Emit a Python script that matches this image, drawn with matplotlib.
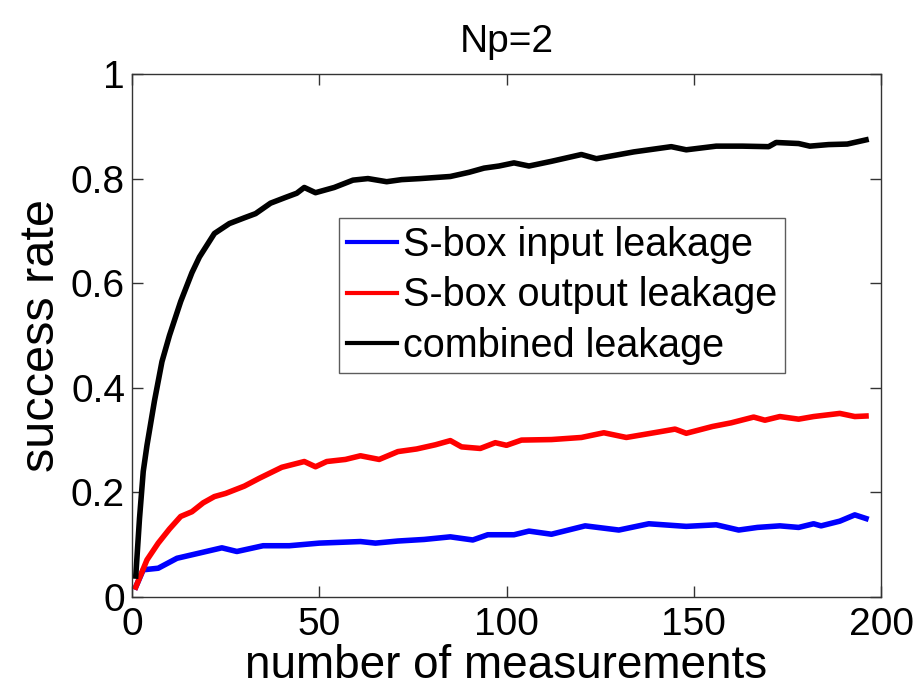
import matplotlib
matplotlib.use("Agg")
import matplotlib.pyplot as plt

# values
x_comb = [1, 2, 3, 4, 6, 8, 10, 13, 16, 18, 22, 26, 30, 33, 37, 41, 44, 46, 49,
          54, 59, 63, 68, 72, 77, 85, 90, 94, 98, 102, 106, 112, 120, 124, 134,
          144, 148, 156, 163, 170, 172, 178, 181, 186, 191, 196]
y_comb = [0.04, 0.15, 0.24, 0.29, 0.375, 0.45, 0.50, 0.565, 0.62, 0.65, 0.695,
          0.714, 0.725, 0.733, 0.753, 0.764, 0.772, 0.783, 0.773, 0.783, 0.797,
          0.800, 0.794, 0.798, 0.800, 0.804, 0.812, 0.820, 0.824, 0.830, 0.824,
          0.833, 0.846, 0.838, 0.851, 0.861, 0.855, 0.862, 0.862, 0.861, 0.869,
          0.867, 0.862, 0.865, 0.866, 0.874]

x_out = [1, 4, 7, 10, 13, 16, 19, 22, 25, 30, 34, 40, 46, 49, 52, 57, 61, 66,
         71, 76, 81, 85, 88, 93, 97, 100, 104, 112, 120, 126, 132, 141, 145,
         148, 155, 160, 166, 169, 173, 178, 182, 189, 193, 196]
y_out = [0.019, 0.071, 0.103, 0.13, 0.154, 0.163, 0.18, 0.192, 0.198, 0.212,
         0.227, 0.248, 0.259, 0.249, 0.259, 0.263, 0.270, 0.263, 0.278, 0.283,
         0.291, 0.299, 0.287, 0.284, 0.295, 0.290, 0.300, 0.301, 0.305, 0.314,
         0.305, 0.316, 0.321, 0.313, 0.326, 0.333, 0.344, 0.338, 0.345, 0.340,
         0.345, 0.351, 0.345, 0.346]

x_in = [1, 3, 7, 12, 18, 24, 28, 35, 42, 50, 61, 65, 71, 78, 85, 91, 95, 102,
        106, 112, 121, 130, 138, 148, 156, 162, 167, 173, 178, 182, 184, 189,
        193, 196]
y_in = [0.019, 0.052, 0.055, 0.074, 0.084, 0.094, 0.087, 0.098, 0.098, 0.103,
        0.106, 0.103, 0.107, 0.110, 0.115, 0.109, 0.119, 0.119, 0.126, 0.120,
        0.136, 0.128, 0.140, 0.135, 0.138, 0.128, 0.133, 0.136, 0.133, 0.140,
        0.136, 0.145, 0.157, 0.150]

labels = ["S-box input leakage", "S-box output leakage", "combined leakage"]

plt.rcParams["font.family"] = ["Liberation Sans", "DejaVu Sans"]

fig = plt.figure(figsize=(9.18, 6.9), dpi=100)
ax = fig.add_axes([0.1438, 0.1348, 0.8159, 0.758])

lw = 4
ax.plot(x_in, y_in, color="#0000ff", lw=lw, label=labels[0])
ax.plot(x_out, y_out, color="#ff0000", lw=lw, label=labels[1])
ax.plot(x_comb, y_comb, color="black", lw=lw, label=labels[2])

ax.set_xlim(0, 200)
ax.set_ylim(0, 1)
ax.set_xticks([0, 50, 100, 150, 200])
ax.set_yticks([0, 0.2, 0.4, 0.6, 0.8, 1])
ax.set_yticklabels(["0", "0.2", "0.4", "0.6", "0.8", "1"])
ax.tick_params(direction="in", length=8, width=1, top=True, right=True,
               colors="#333333", labelcolor="black", labelsize=28)
ax.tick_params(axis="y", pad=5)
ax.tick_params(axis="x", pad=7)
for sp in ax.spines.values():
    sp.set_color("#333333")
    sp.set_linewidth(1)

ax.set_xlabel("number of measurements", fontsize=33, labelpad=1)
ax.set_ylabel("success rate", fontsize=35, labelpad=5)
ax.set_title("Np=2", fontsize=28, pad=16)

leg = ax.legend(loc="upper left", bbox_to_anchor=(0.277, 0.725), fontsize=28.5,
                frameon=True, fancybox=False, handlelength=1.25, handletextpad=0.15,
                borderpad=0.2, labelspacing=0.32, borderaxespad=0)
leg.get_frame().set_edgecolor("#333333")
leg.get_frame().set_linewidth(1)
for h in leg.get_lines():
    h.set_linewidth(3)

fig.savefig("out.png", dpi=100)
